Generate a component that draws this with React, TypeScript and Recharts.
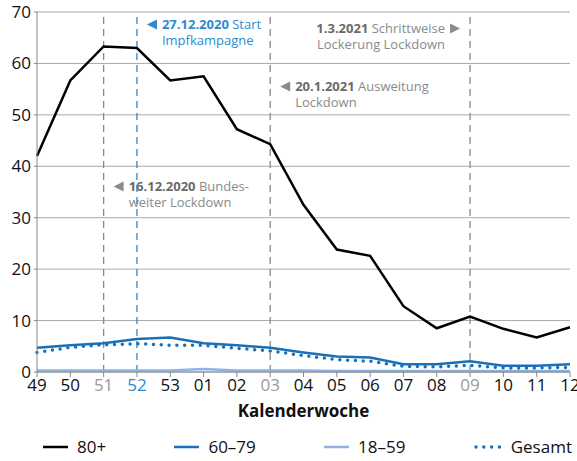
import { LineChart, Line, XAxis, YAxis, CartesianGrid, ReferenceLine, Legend } from "recharts";

const WEEKS = ["49", "50", "51", "52", "53", "01", "02", "03", "04", "05", "06", "07", "08", "09", "10", "11", "12"];
const AGE_80 = [42.0, 56.7, 63.3, 63.0, 56.7, 57.5, 47.2, 44.3, 32.5, 23.8, 22.6, 12.8, 8.5, 10.8, 8.4, 6.7, 8.7];
const AGE_60_79 = [4.7, 5.2, 5.6, 6.4, 6.7, 5.6, 5.2, 4.7, 3.8, 3.0, 2.8, 1.5, 1.5, 2.1, 1.2, 1.2, 1.5];
const AGE_18_59 = [0.3, 0.3, 0.3, 0.3, 0.3, 0.6, 0.3, 0.3, 0.3, 0.2, 0.2, 0.2, 0.2, 0.2, 0.2, 0.2, 0.2];
const GESAMT = [3.8, 4.8, 5.3, 5.5, 5.2, 5.2, 4.6, 4.1, 3.2, 2.4, 2.1, 1.1, 1.0, 1.3, 0.8, 0.8, 0.9];
const Y_TICKS = [0, 10, 20, 30, 40, 50, 60, 70];

// events: week, date, text line 1, text line 2, side of the line
const EVENTS = [
  { week: "51", date: "16.12.2020", text: "Bundes-", text2: "weiter Lockdown", side: "right", top: 179 },
  { week: "52", date: "27.12.2020", text: "Start", text2: "Impfkampagne", side: "right", top: 17 },
  { week: "03", date: "20.1.2021", text: "Ausweitung", text2: "Lockdown", side: "right", top: 79 },
  { week: "09", date: "1.3.2021", text: "Schrittweise", text2: "Lockerung Lockdown", side: "left", top: 21 },
];

const FONT = "'Open Sans', sans-serif";
const GRAY = "#8a8a8a";
const BLUE_EVT = "#2b8bd0";
const C80 = "#000000";
const C60 = "#1a70b8";
const C18 = "#8cb3e3";

const data = WEEKS.map((w, i) => ({
  week: w,
  a80: AGE_80[i],
  a60: AGE_60_79[i],
  a18: AGE_18_59[i],
  all: GESAMT[i],
}));

const SERIES = [
  { key: "a80", name: "80+", color: C80 },
  { key: "a60", name: "60–79", color: C60 },
  { key: "a18", name: "18–59", color: C18 },
  { key: "all", name: "Gesamt", color: C60, dotted: true },
];

function weekColor(w: string) {
  if (w === "52") return BLUE_EVT;
  if (EVENTS.some((e) => e.week === w)) return "#9a9a9a";
  return "#111";
}

const WeekTick = (props: any) => {
  const { x, y, payload } = props;
  return (
    <text x={x} y={y} dy="0.71em" textAnchor="middle" fontSize={17} fontFamily={FONT} fill={weekColor(payload.value)}>
      {payload.value}
    </text>
  );
};

const EventLabel = (ev: (typeof EVENTS)[number], color: string, dateColor: string) => (props: any) => {
  const vb = props.viewBox || {};
  const x = vb.x;
  const y0 = vb.y + ev.top;
  const y1 = y0 + 16;
  const right = ev.side === "right";
  const tx = right ? x + 25 : x - 25;
  const anchor = right ? "start" : "end";
  const triY = y0 - 4.5;
  const tri = right
    ? `${x + 10},${triY} ${x + 20},${triY - 5} ${x + 20},${triY + 5}`
    : `${x - 20},${triY - 5} ${x - 10},${triY} ${x - 20},${triY + 5}`;
  return (
    <g fontFamily={FONT} fontSize={13}>
      <polygon points={tri} fill={color} />
      <text x={tx} y={y0} textAnchor={anchor} fill={color}>
        <tspan fontWeight="bold" fill={dateColor}>{ev.date}</tspan>
        <tspan> {ev.text}</tspan>
      </text>
      <text x={tx} y={y1} textAnchor={anchor} fill={color}>
        {ev.text2}
      </text>
    </g>
  );
};

const AxisTitle = (props: any) => {
  const vb = props.viewBox || {};
  return (
    <text x={vb.x + vb.width / 2} y={vb.y + 45} textAnchor="middle" fontSize={17} fontWeight="bold" fontFamily={FONT} fill="#111">
      Kalenderwoche
    </text>
  );
};

const LegendContent = () => (
  <div
    style={{
      height: 29,
      display: "flex",
      justifyContent: "space-between",
      alignItems: "center",
      padding: "0 5px 0 43px",
      fontFamily: FONT,
      fontSize: 17,
      color: "#111",
      boxSizing: "border-box",
    }}
  >
    {SERIES.map((s) => (
      <div key={s.key} style={{ display: "flex", alignItems: "center" }}>
        <svg width={s.dotted ? 32 : 25} height={10} style={{ marginRight: s.dotted ? 5 : 9 }}>
          {s.dotted ? (
            <line x1={2} y1={5} x2={30} y2={5} stroke={s.color} strokeWidth={3.5} strokeLinecap="round" strokeDasharray="0 7.8" />
          ) : (
            <line x1={0} y1={5} x2={25} y2={5} stroke={s.color} strokeWidth={2.5} />
          )}
        </svg>
        <span>{s.name}</span>
      </div>
    ))}
  </div>
);

export default function App() {
  return (
    <div style={{ position: "absolute", left: 0, top: 0, background: "#fff" }}>
      <LineChart width={577} height={461} data={data} margin={{ top: 12, right: 7, bottom: 0, left: 0 }}>
        <CartesianGrid vertical={false} stroke="#aaaaaa" strokeWidth={1} />
        <XAxis
          dataKey="week"
          height={60}
          interval={0}
          tick={<WeekTick />}
          tickSize={5}
          tickMargin={2}
          stroke="#888"
          label={<AxisTitle />}
        />
        <YAxis
          domain={[0, 70]}
          ticks={Y_TICKS}
          width={37}
          tickSize={3}
          tickMargin={3}
          stroke="#888"
          tick={{ fontSize: 17, fontFamily: FONT, fill: "#111" }}
        />
        {EVENTS.map((ev) => {
          const isBlue = ev.week === "52";
          const col = isBlue ? BLUE_EVT : GRAY;
          const dateCol = isBlue ? BLUE_EVT : "#6a6a6a";
          return (
            <ReferenceLine
              key={ev.week}
              x={ev.week}
              stroke={isBlue ? BLUE_EVT : "#888"}
              strokeWidth={1.3}
              strokeDasharray="7 5"
              label={EventLabel(ev, col, dateCol)}
            />
          );
        })}
        <Legend verticalAlign="bottom" content={<LegendContent />} wrapperStyle={{ left: 0, width: 577 }} />
        <Line type="linear" dataKey="a18" stroke={C18} strokeWidth={2.5} dot={false} isAnimationActive={false} />
        <Line type="linear" dataKey="all" stroke={C60} strokeWidth={3.5} strokeLinecap="round" strokeDasharray="0 7.8" dot={false} isAnimationActive={false} />
        <Line type="linear" dataKey="a60" stroke={C60} strokeWidth={2.5} dot={false} isAnimationActive={false} />
        <Line type="linear" dataKey="a80" stroke={C80} strokeWidth={2.5} dot={false} isAnimationActive={false} />
      </LineChart>
    </div>
  );
}
